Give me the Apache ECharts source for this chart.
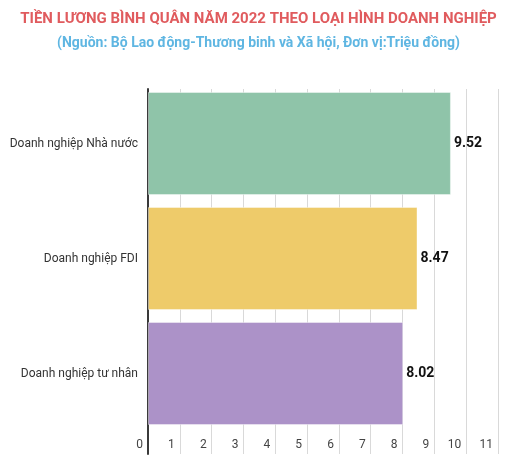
<!DOCTYPE html>
<html>
<head>
<meta charset="utf-8">
<script src="https://cdn.jsdelivr.net/npm/echarts@6/dist/echarts.min.js"></script>
<style>
  html, body { margin: 0; padding: 0; background: #fff; }
  #chart { width: 517px; height: 469px; }
</style>
</head>
<body>
<div id="chart"></div>
<script>
// du lieu doc tu hinh
var categories = ['Doanh nghiệp Nhà nước', 'Doanh nghiệp FDI', 'Doanh nghiệp tư nhân'];
var values = [9.52, 8.47, 8.02];
var barColors = ['#8fc4a9', '#eecb6a', '#ac92c8'];
var tickMax = 11;

var myChart = echarts.init(document.getElementById('chart'));

var option = {
    backgroundColor: '#fff',
    animation: false,
    textStyle: { fontFamily: 'Roboto' },
    title: [{
        text: 'TIỀN LƯƠNG BÌNH QUÂN NĂM 2022 THEO LOẠI HÌNH DOANH NGHIỆP',
        left: 'center',
        top: 7,
        textStyle: { color: '#e05b5e', fontSize: 15, fontWeight: 'bold', fontFamily: 'Roboto' }
    }, {
        text: '(Nguồn: Bộ Lao động-Thương binh và Xã hội, Đơn vị:Triệu đồng)',
        left: 'center',
        top: 31,
        textStyle: { color: '#5fb6e2', fontSize: 14, fontWeight: 'bold', fontFamily: 'Roboto' }
    }],
    grid: [
        // vung ve cot
        { left: 148, width: 350, top: 86, height: 345 },
        // vung luoi + nhan truc
        { left: 148, width: 350, top: 89, bottom: 15 }
    ],
    xAxis: [{
        gridIndex: 0,
        type: 'value',
        min: 0,
        max: tickMax,
        interval: 1,
        show: false
    }, {
        gridIndex: 1,
        type: 'value',
        min: 0,
        max: tickMax,
        interval: 1,
        axisLine: { show: false },
        axisTick: { show: false },
        splitLine: { show: true, lineStyle: { color: '#d9d9d9', width: 1 } },
        axisLabel: {
            inside: true,
            margin: 3,
            align: 'right',
            verticalAlign: 'bottom',
            padding: [0, 5, 0, 0],
            color: '#444',
            fontSize: 12,
            showMaxLabel: true
        }
    }],
    yAxis: [{
        gridIndex: 0,
        type: 'category',
        data: categories,
        inverse: true,
        axisLine: { show: false },
        axisTick: { show: false },
        axisLabel: { color: '#333', fontSize: 12, margin: 10 }
    }, {
        gridIndex: 1,
        type: 'value',
        min: 0,
        max: 1,
        axisLine: { show: true, lineStyle: { color: '#3a3a3a', width: 2 } },
        axisTick: { show: false },
        axisLabel: { show: false },
        splitLine: { show: false }
    }],
    series: [{
        type: 'bar',
        xAxisIndex: 0,
        yAxisIndex: 0,
        barWidth: 103,
        z: 5,
        data: values.map(function (v, i) {
            return { value: v, itemStyle: { color: barColors[i] } };
        }),
        itemStyle: { borderColor: 'rgba(255,255,255,0.4)', borderWidth: 1 },
        label: {
            show: true,
            position: 'right',
            distance: 3,
            color: '#111',
            fontSize: 14,
            fontWeight: 'bold',
            formatter: function (p) { return p.value.toFixed(2); }
        }
    }]
};
myChart.setOption(option);
</script>
</body>
</html>
